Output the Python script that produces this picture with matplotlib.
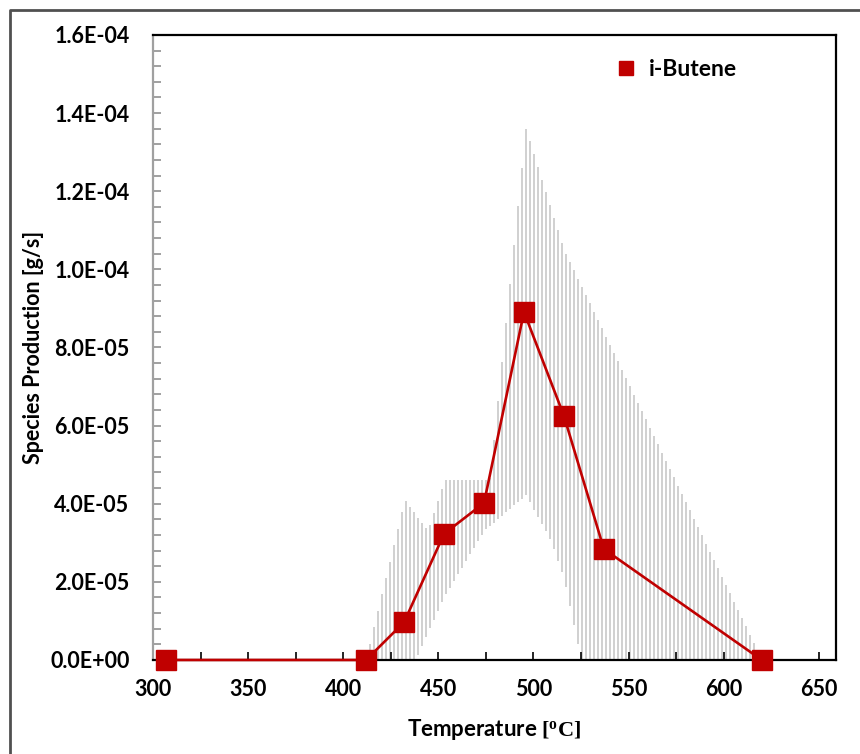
import numpy as np
import matplotlib.pyplot as plt
from matplotlib.lines import Line2D
from matplotlib.ticker import MultipleLocator, FuncFormatter

plt.rcParams['font.family'] = ['Lato', 'DejaVu Sans']
plt.rcParams['font.weight'] = 'bold'
plt.rcParams['axes.labelweight'] = 'bold'
plt.rcParams['mathtext.fontset'] = 'custom'
plt.rcParams['mathtext.rm'] = 'Liberation Serif'

# measured points
temp = [307, 412, 432, 453, 474, 495, 516, 537, 620]
prod = [0.0, 0.0, 9.7e-6, 3.23e-5, 4.02e-5, 8.91e-5, 6.25e-5, 2.84e-5, 0.0]

# uncertainty band edges
up_T = [412, 432.5, 444.5, 453.5, 477, 496, 516, 620]
up_val = [0.0, 4.1e-5, 3.3e-5, 4.6e-5, 4.6e-5, 1.36e-4, 1.05e-4, 0.0]
lo_T = [412, 438, 453, 474, 496, 509, 516, 525, 620]
lo_val = [0.0, 0.0, 1.6e-5, 3.3e-5, 4.22e-5, 3.07e-5, 2.1e-5, 0.0, 0.0]

red = '#C00000'

fig = plt.figure(figsize=(8.6, 7.54), dpi=100)
ax = fig.add_axes([0.178, 0.1247, 0.794, 0.829])

# band drawn as thin vertical strokes
xs = np.arange(412, 620, 2.1)
ax.vlines(xs, np.interp(xs, lo_T, lo_val), np.interp(xs, up_T, up_val),
          colors='#d0d0d0', linewidth=1.4, zorder=1)

ax.plot(temp, prod, color=red, lw=1.9, marker='s', markersize=14,
        markerfacecolor=red, markeredgecolor=red, label='i-Butene',
        clip_on=False, zorder=3)

ax.set_xlim(300, 659)
ax.set_ylim(0, 1.6e-4)
ax.xaxis.set_major_locator(MultipleLocator(50))
ax.xaxis.set_minor_locator(MultipleLocator(25))
ax.yaxis.set_major_locator(MultipleLocator(2e-5))
ax.yaxis.set_minor_locator(MultipleLocator(4e-6))
ax.yaxis.set_major_formatter(FuncFormatter(lambda v, p: f"{v:.1E}"))

ax.tick_params(which='both', direction='in', length=6, width=1.2,
               labelsize=15.5, colors='black')
ax.tick_params(axis='y', which='both', color='#909090', pad=17)
ax.tick_params(axis='x', which='both', pad=14)

for s in ['top', 'right', 'bottom']:
    ax.spines[s].set_color('black')
    ax.spines[s].set_linewidth(1.6)
ax.spines['left'].set_color('#a0a0a0')
ax.spines['left'].set_linewidth(1.6)

ax.set_xlabel(r"Temperature $\mathrm{[^{o}C]}$", fontsize=16, labelpad=12)
ax.set_ylabel("Species Production [g/s]", fontsize=15.5)
ax.yaxis.set_label_coords(-0.16, 0.5)

leg = ax.legend(loc='upper right', bbox_to_anchor=(0.885, 0.995), frameon=False,
                fontsize=16.5, handlelength=1.0, handletextpad=0.5,
                markerscale=0.75)
for h in leg.legend_handles:
    h.set_linestyle('none')

# outer frame of the picture
fig.add_artist(Line2D([0.012, 0.012, 1.0], [0.0, 0.987, 0.987],
                      transform=fig.transFigure, color='#505050', lw=2))

fig.savefig('out.png', dpi=100)
